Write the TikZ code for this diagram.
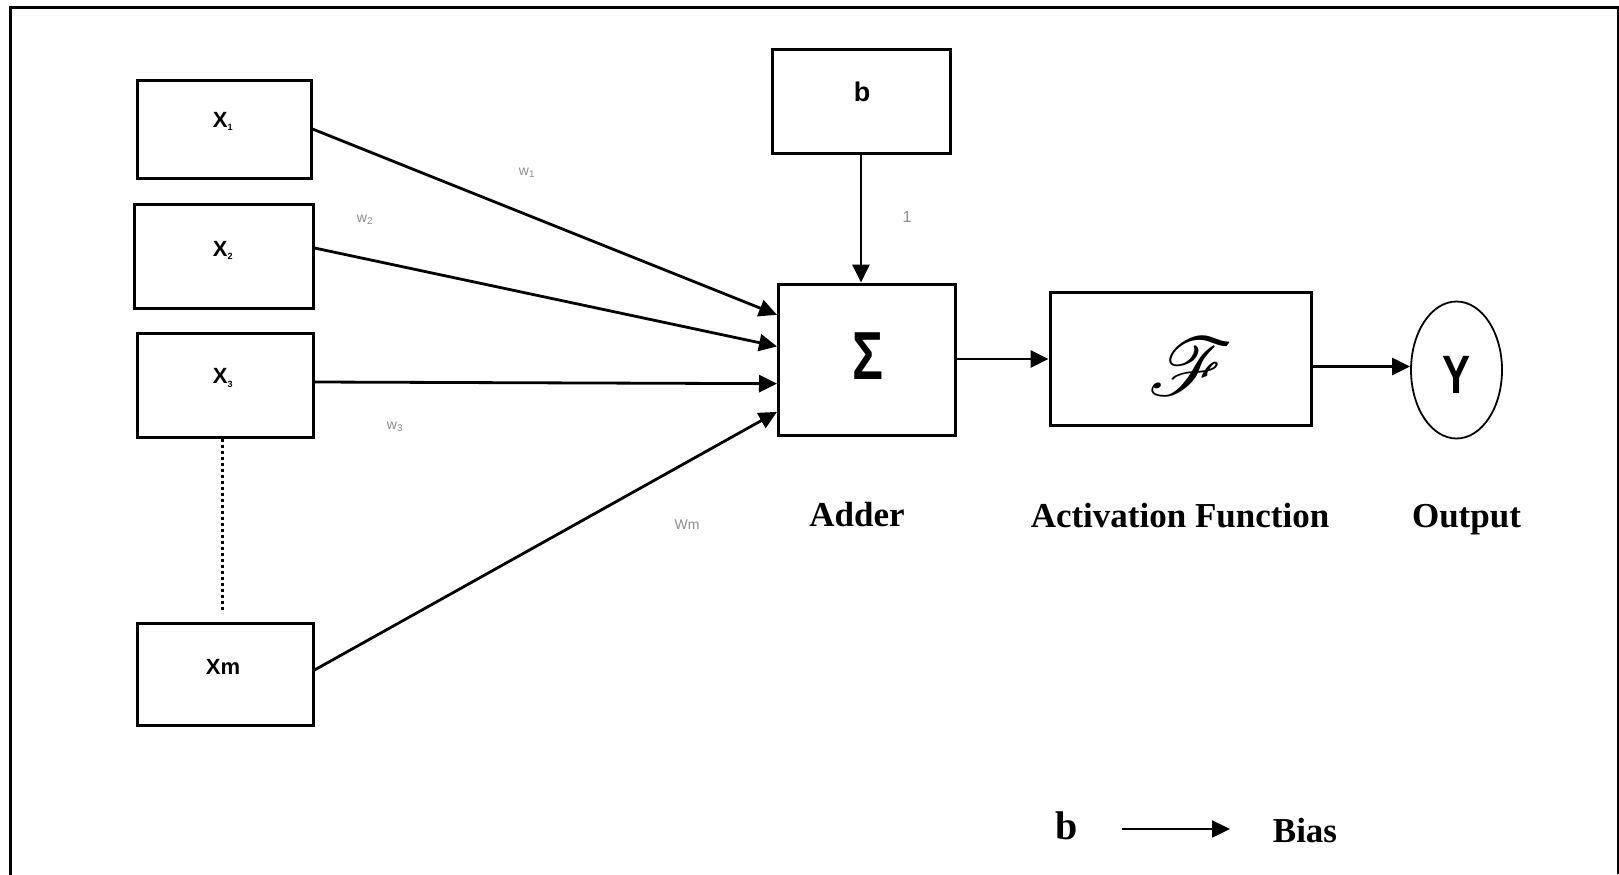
\documentclass[tikz,border=0pt]{standalone}
\usepackage{fontspec}
\setmainfont{Liberation Serif}
\setsansfont{Liberation Sans}
\usepackage{mathrsfs}
\usetikzlibrary{arrows.meta,calc,shapes.geometric}

\begin{document}
\begin{tikzpicture}[x=1pt,y=-1pt,
  box/.style={draw, rectangle, line width=3pt, inner sep=0pt},
  inlabel/.style={font=\sffamily\bfseries\fontsize{22}{24}\selectfont},
  weight/.style={text=black!45, font=\sffamily\fontsize{14}{16}\selectfont},
  caption/.style={anchor=base, font=\bfseries\fontsize{35}{40}\selectfont},
  conn/.style={line width=2.8pt, -{Triangle[length=18pt,width=17pt]}}]

\useasboundingbox (0,0) rectangle (1619,875);

% outer frame
\draw[line width=3pt] (10.5,875) -- (10.5,7.5) -- (1618.5,7.5);
\draw[line width=1.6pt] (1618.2,7.5) -- (1618.2,874);

% input boxes
\node[box, minimum width=174pt, minimum height=98pt]  (x1) at (224,129) {};
\node[box, minimum width=179pt, minimum height=104pt] (x2) at (223.5,256) {};
\node[box, minimum width=176pt, minimum height=104pt] (x3) at (225,385) {};
\node[box, minimum width=176pt, minimum height=102pt] (xm) at (225,674) {};

\node[inlabel] (lx1) at (223,121) {X\textsubscript{\fontsize{9}{9}\selectfont 1}};
\node[inlabel] (lx2) at (223,250) {X\textsubscript{\fontsize{9}{9}\selectfont 2}};
\node[inlabel] (lx3) at (223,378) {X\textsubscript{\fontsize{9}{9}\selectfont 3}};
\node[inlabel] (lxm) at (223,667) {Xm};

% bias, adder, activation and output
\node[box, minimum width=178pt, minimum height=103pt] (b) at (861,101.5) {};
\node[font=\sffamily\bfseries\fontsize{27}{28}\selectfont] (lb) at (862,92) {b};

\node[box, minimum width=177pt, minimum height=151pt] (adder) at (867,359.5) {};
\node (sig) at (868,356) {\scalebox{0.76}[1]{\sffamily\bfseries\fontsize{68}{70}\selectfont Σ}};

\node[box, minimum width=261pt, minimum height=133pt] (act) at (1180.5,359) {};
\node (fn) at (1191,367) {\scalebox{3.3}{\fontsize{78}{80}\selectfont$\mathscr{F}$}};

\node[draw, ellipse, line width=1.8pt, minimum width=91pt, minimum height=137pt, inner sep=0pt] (y) at (1456.5,370) {};
\node (ly) at (1456.5,375) {\scalebox{0.78}[1]{\sffamily\bfseries\fontsize{54}{56}\selectfont Y}};

% dotted ellipsis between x3 and xm
\draw[line width=3pt, dash pattern=on 3pt off 3pt] ([xshift=-3pt]x3.south) -- ([xshift=-3pt,yshift=9pt]xm.north);

% weighted inputs into the adder
\draw[conn] (x1.east) -- ($(adder.north west)!0.21!(adder.south west)$);
\draw[conn] ([yshift=8pt]x2.east) -- ($(adder.north west)!0.415!(adder.south west)$);
\draw[conn] ([yshift=3pt]x3.east) -- ($(adder.north west)!0.657!(adder.south west)$);
\draw[conn] ([yshift=4pt]xm.east) -- ($(adder.north west)!0.84!(adder.south west)$);

\node[weight] (w1) at (527,173) {w\textsubscript{1}};
\node[weight] (w2) at (365,220) {w\textsubscript{2}};
\node[weight] (w3) at (395,427) {w\textsubscript{3}};
\node[weight] (wm) at (687,525) {Wm};

% bias into adder
\draw[conn] (b.south) -- (b.south |- adder.north);
\node[text=black!45, font=\sffamily\fontsize{16}{18}\selectfont] (one) at (907,217) {1};

% adder -> activation -> output
\draw[conn] (act.west -| adder.east) -- (act.west);
\draw[conn] ([yshift=-7.5pt]act.east) -- ([yshift=-7.5pt]act.east -| y.west);

% captions
\node[caption] (cadd) at (857,526) {Adder};
\node[caption] (cact) at (1180,527) {Activation Function};
\node[caption] (cout) at (1466.5,527) {Output};

% legend
\node[anchor=base, font=\bfseries\fontsize{40}{44}\selectfont] (legb) at (1067,839) {b};
\node[anchor=base, font=\bfseries\fontsize{35}{40}\selectfont] (legbias) at (1305,842) {Bias};
\draw[line width=2.4pt, -{Triangle[length=18pt,width=17pt]}] ([xshift=55pt]legb.base) ++(0,-10) coordinate (ls) -- ([xshift=-75pt]legbias.base |- ls) coordinate (le);

\end{tikzpicture}
\end{document}
